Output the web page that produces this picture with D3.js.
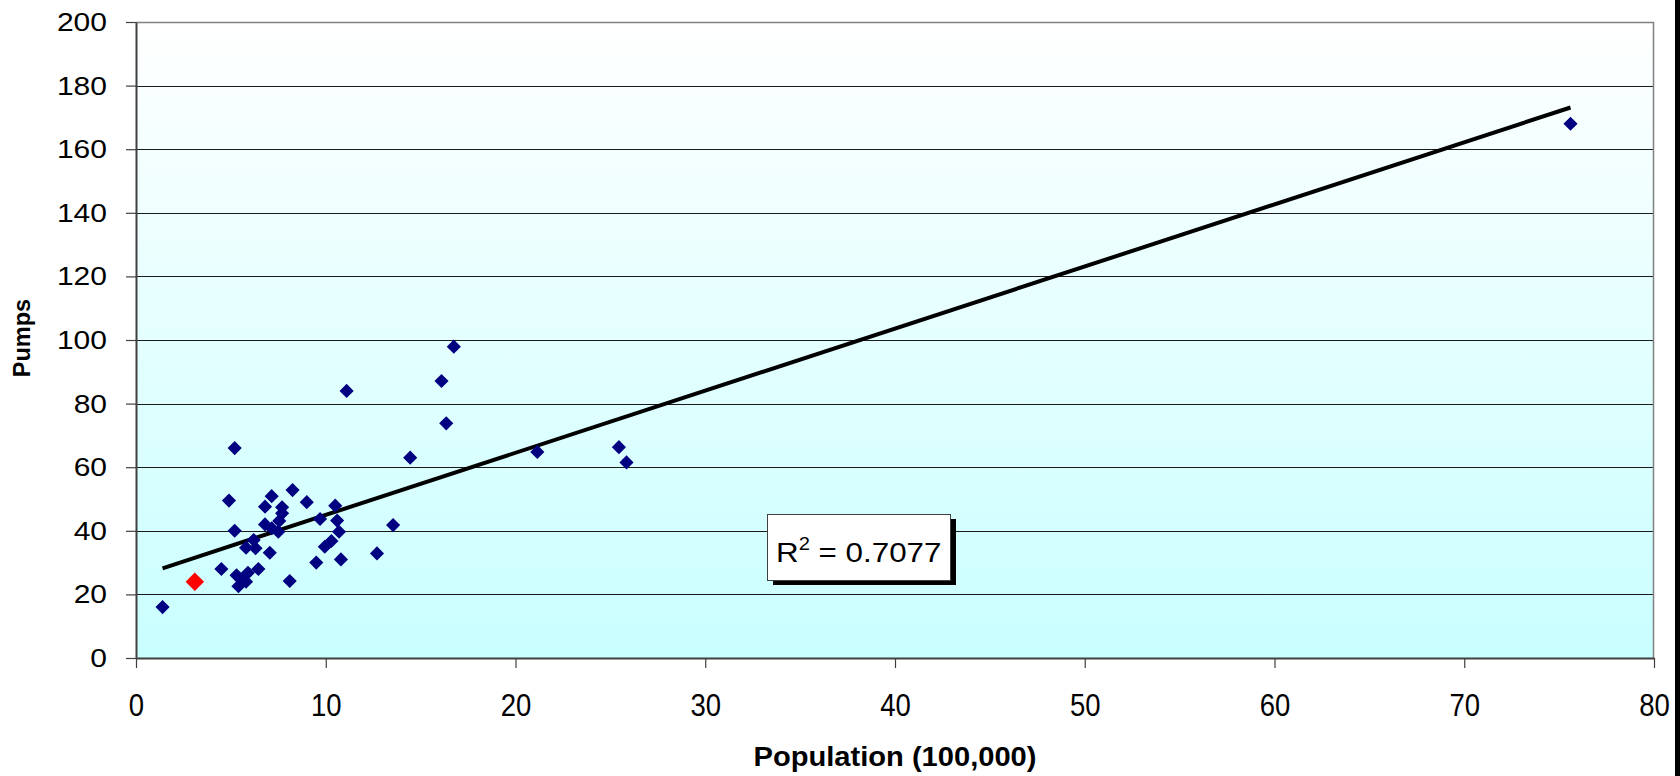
<!DOCTYPE html>
<html>
<head>
<meta charset="utf-8">
<script src="https://cdn.jsdelivr.net/npm/d3@7"></script>
<style>
html, body { margin: 0; padding: 0; background: #fff; }
svg { display: block; font-family: "Liberation Sans", Arial, sans-serif; }
</style>
</head>
<body>
<svg id="chart" width="1680" height="776"></svg>
<script>
// ---- data ----
const popX = [1.4, 4.5, 4.9, 5.2, 5.2, 5.3, 5.4, 5.6, 5.8, 5.9,
              6.45, 5.8, 6.2, 6.3, 7.05, 6.8, 7.15, 6.8, 7.15, 7.5,
              7.55, 7.7, 7.7, 8.25, 8.1, 9.0, 9.5, 9.7, 9.95, 10.3,
              10.5, 10.6, 10.7, 10.8, 11.1, 12.7, 13.55, 14.45, 16.1, 16.35,
              16.75, 21.15, 25.45, 25.85, 75.6];
const pumpsY = [16, 28, 49.5, 66, 40, 26, 22.6, 24.5, 24, 26.8,
                28, 34.7, 37.1, 34.5, 33.1, 47.6, 50.9, 42, 40.8, 39.7,
                43.1, 45.5, 47.4, 52.8, 24.2, 49, 30, 43.7, 35, 36.8,
                47.9, 43.2, 39.7, 31, 84, 32.9, 41.8, 63, 87.1, 73.8,
                97.9, 64.8, 66.3, 61.5, 168];
const highlightX = [3.1];
const highlightY = [24];
const xTickValues = [0, 10, 20, 30, 40, 50, 60, 70, 80];
const yTickValues = [0, 20, 40, 60, 80, 100, 120, 140, 160, 180, 200];
const rSquaredText = "0.7077";
const xTitle = "Population (100,000)";
const yTitle = "Pumps";

// ---- layout ----
const plot = { left: 136, top: 22, right: 1654, bottom: 658 };
const svg = d3.select("#chart");

const x = d3.scaleLinear().domain([0, 80]).range([plot.left, plot.right]);
const y = d3.scaleLinear().domain([0, 200]).range([plot.bottom, plot.top]);

// background gradient
const defs = svg.append("defs");
const grad = defs.append("linearGradient").attr("id", "bg")
  .attr("x1", 0).attr("y1", 0).attr("x2", 0).attr("y2", 1);
grad.append("stop").attr("offset", "0%").attr("stop-color", "#ffffff");
grad.append("stop").attr("offset", "100%").attr("stop-color", "#c9ffff");

svg.append("rect")
  .attr("x", plot.left).attr("y", plot.top)
  .attr("width", plot.right - plot.left).attr("height", plot.bottom - plot.top)
  .attr("fill", "url(#bg)");

// gridlines
svg.append("g").selectAll("line")
  .data(yTickValues.filter(v => v > 0 && v < 200))
  .join("line")
  .attr("x1", plot.left).attr("x2", plot.right)
  .attr("y1", d => Math.round(y(d)) + 0.5).attr("y2", d => Math.round(y(d)) + 0.5)
  .attr("stroke", "#1a1a1a").attr("stroke-width", 1);

// plot border (top and right)
svg.append("path")
  .attr("d", `M${plot.left},${plot.top + 0.5} H${plot.right - 0.5} V${plot.bottom}`)
  .attr("fill", "none").attr("stroke", "#808080").attr("stroke-width", 1.5);

// y axis
const yAxis = svg.append("g")
  .attr("transform", `translate(${plot.left},0)`)
  .call(d3.axisLeft(y).tickValues(yTickValues).tickSize(10).tickSizeOuter(0));
yAxis.select(".domain").attr("stroke", "#404040").attr("stroke-width", 2);
yAxis.selectAll(".tick line").attr("stroke", "#404040").attr("stroke-width", 1.2);
yAxis.selectAll(".tick text")
  .attr("x", null).attr("dy", null)
  .attr("transform", "translate(-29,8.5) scale(1.2,1)")
  .attr("text-anchor", "end")
  .attr("fill", "#000")
  .style("font-size", "25px")
  .style("font-family", "'Liberation Sans', Arial, sans-serif");

// x axis
const xAxis = svg.append("g")
  .attr("transform", `translate(0,${plot.bottom})`)
  .call(d3.axisBottom(x).tickValues(xTickValues).tickSize(10).tickSizeOuter(0));
xAxis.select(".domain").attr("stroke", "#404040").attr("stroke-width", 2);
xAxis.selectAll(".tick line").attr("stroke", "#404040").attr("stroke-width", 1.2);
xAxis.selectAll(".tick text")
  .attr("y", null).attr("dy", null)
  .attr("transform", "translate(0,58) scale(0.86,1)")
  .attr("text-anchor", "middle")
  .attr("fill", "#000")
  .style("font-size", "32px")
  .style("font-family", "'Liberation Sans', Arial, sans-serif");

// trendline (least squares over all points)
const allX = popX.concat(highlightX);
const allY = pumpsY.concat(highlightY);
const mx = d3.mean(allX), my = d3.mean(allY);
let sxy = 0, sxx = 0;
allX.forEach((v, i) => { sxy += (v - mx) * (allY[i] - my); sxx += (v - mx) * (v - mx); });
const slope = sxy / sxx, intercept = my - slope * mx;
const [xmin, xmax] = d3.extent(allX);
svg.append("path")
  .datum([xmin, xmax])
  .attr("d", d3.line().x(d => x(d)).y(d => y(intercept + slope * d)))
  .attr("stroke", "#000").attr("stroke-width", 4).attr("fill", "none");

// points
const diamond = (area) => d3.symbol().type(d3.symbolSquare).size(area)();
svg.append("g").selectAll("path")
  .data(popX.map((v, i) => [v, pumpsY[i]]))
  .join("path")
  .attr("d", diamond(100))
  .attr("transform", d => `translate(${x(d[0])},${y(d[1])}) rotate(45)`)
  .attr("fill", "#000080");
svg.append("g").selectAll("path")
  .data(highlightX.map((v, i) => [v, highlightY[i]]))
  .join("path")
  .attr("d", diamond(170))
  .attr("transform", d => `translate(${x(d[0])},${y(d[1])}) rotate(45)`)
  .attr("fill", "#ff0000");

// R² label box
const box = svg.append("g").attr("transform", "translate(767,514)");
box.append("rect").attr("x", 6).attr("y", 5).attr("width", 183).attr("height", 66).attr("fill", "#000");
box.append("rect").attr("x", 0.5).attr("y", 0.5).attr("width", 183).attr("height", 66)
  .attr("fill", "#fff").attr("stroke", "#404040").attr("stroke-width", 1);
const rt = box.append("text")
  .attr("transform", "translate(9,48) scale(1.12,1)")
  .style("font-size", "28px").attr("fill", "#000");
rt.append("tspan").text("R");
rt.append("tspan").attr("dy", -12).style("font-size", "18px").text("2");
rt.append("tspan").attr("dy", 12).text(" = " + rSquaredText);

// axis titles
svg.append("text")
  .attr("transform", "translate(30,338) rotate(-90)")
  .attr("text-anchor", "middle")
  .style("font-size", "23.5px").style("font-weight", "bold")
  .text(yTitle);
svg.append("text")
  .attr("x", (plot.left + plot.right) / 2).attr("y", 766)
  .attr("text-anchor", "middle")
  .attr("textLength", 283).attr("lengthAdjust", "spacingAndGlyphs")
  .style("font-size", "27px").style("font-weight", "bold")
  .text(xTitle);

// right edge dark strip
svg.append("rect").attr("x", 1675).attr("y", 0).attr("width", 5).attr("height", 776).attr("fill", "#000");
</script>
</body>
</html>
